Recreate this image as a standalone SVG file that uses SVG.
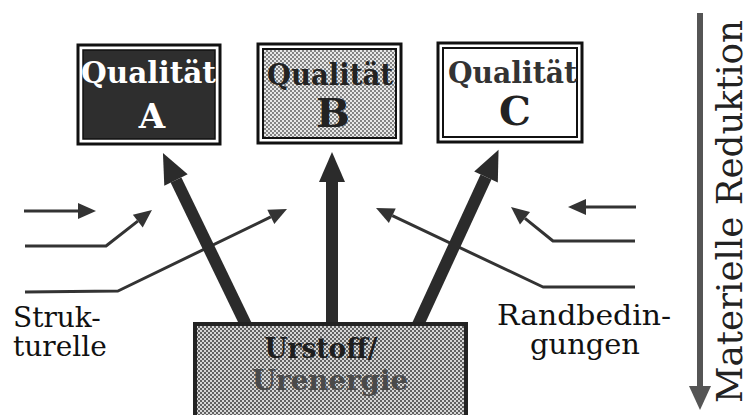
<svg xmlns="http://www.w3.org/2000/svg" width="750" height="415" viewBox="0 0 750 415">
<style>
.thin{fill:none;stroke:#333;stroke-width:3;stroke-linejoin:round;marker-end:url(#ah)}
.thick{stroke:#2b2b2b;stroke-width:12;marker-end:url(#bh)}
.q{font-family:"DejaVu Serif","Liberation Serif",serif;font-weight:bold;font-size:30px}
.big{font-family:"DejaVu Serif","Liberation Serif",serif;font-weight:bold;text-anchor:middle}
.lbl{font-family:"DejaVu Serif","Liberation Serif",serif;font-size:28px;fill:#111}
</style>
<defs>
<marker id="ah" markerUnits="userSpaceOnUse" markerWidth="18" markerHeight="16" refX="0" refY="8" orient="auto" overflow="visible">
<path d="M0,0 L18,8 L0,16 z" fill="#333"/>
</marker>
<marker id="bh" markerUnits="userSpaceOnUse" markerWidth="30" markerHeight="26" refX="0" refY="13" orient="auto" overflow="visible">
<path d="M0,0 L30,13 L0,26 z" fill="#2b2b2b"/>
</marker>
<marker id="vh" markerUnits="userSpaceOnUse" markerWidth="24" markerHeight="22" refX="0" refY="11" orient="auto" overflow="visible">
<path d="M0,0 L24,11 L0,22 z" fill="#555"/>
</marker>
<pattern id="dotsB" width="4" height="4" patternUnits="userSpaceOnUse">
<rect width="4" height="4" fill="#e8e8e8"/>
<circle cx="1" cy="1" r="0.9" fill="#555"/>
<circle cx="3" cy="3" r="0.9" fill="#555"/>
</pattern>
<pattern id="dotsU" width="4" height="4" patternUnits="userSpaceOnUse">
<rect width="4" height="4" fill="#d6d6d6"/>
<circle cx="1" cy="1" r="1" fill="#3a3a3a"/>
<circle cx="3" cy="3" r="1" fill="#3a3a3a"/>
</pattern>
</defs>
<rect width="750" height="415" fill="#fff"/>

<g id="connectors">
<polyline class="thin" points="24,211 78,211"/>
<polyline class="thin" points="25,246 106,246 137.8,221.1"/>
<polyline class="thin" points="25,292 118,291 270.8,216.9"/>
<polyline class="thin" points="636,207 586,207"/>
<polyline class="thin" points="635,241 553,241 525,218.3"/>
<polyline class="thin" points="635,287 543,287 392.3,215.7"/>
<line class="thick" x1="248.5" y1="330" x2="176" y2="180"/>
<line class="thick" stroke-width="9" x1="332" y1="330" x2="332" y2="182"/>
<line class="thick" x1="415.5" y1="330" x2="486" y2="177"/>
<line x1="700" y1="13" x2="700" y2="386" stroke="#555" stroke-width="6" marker-end="url(#vh)"/>
</g>

<g id="qualA">
<rect x="78" y="45" width="142" height="99" fill="#fff" stroke="#111" stroke-width="3"/>
<rect x="83" y="50" width="132" height="89" fill="#2e2e2e" stroke="#111" stroke-width="1.5"/>
<text class="q" x="81" y="83" fill="#fff" textLength="135" lengthAdjust="spacingAndGlyphs">Qualität</text>
<text class="big" x="152" y="128" font-size="34" fill="#fff">A</text>
</g>

<g id="qualB">
<rect x="258" y="44" width="143" height="99" fill="#fff" stroke="#111" stroke-width="3"/>
<rect x="263" y="49" width="133" height="89" fill="url(#dotsB)" stroke="#111" stroke-width="2"/>
<text class="q" x="267" y="85" fill="#222" textLength="126" lengthAdjust="spacingAndGlyphs">Qualität</text>
<text class="big" x="333" y="127" font-size="40" fill="#222">B</text>
</g>

<g id="qualC">
<rect x="438" y="43" width="144" height="99" fill="#fff" stroke="#111" stroke-width="3"/>
<rect x="443" y="48" width="134" height="89" fill="#fff" stroke="#111" stroke-width="2"/>
<text class="q" x="448" y="83" fill="#333" textLength="129" lengthAdjust="spacingAndGlyphs">Qualität</text>
<text class="big" x="515" y="125" font-size="40" fill="#222">C</text>
</g>

<g id="urstoff">
<rect x="195" y="324" width="271" height="100" fill="url(#dotsU)" stroke="#222" stroke-width="4"/>
<text class="big" x="321" y="358" font-size="28" fill="#1e1e1e" textLength="113" lengthAdjust="spacingAndGlyphs">Urstoff/</text>
<text class="big" x="330" y="390" font-size="28" fill="#4a4a4a" textLength="156" lengthAdjust="spacingAndGlyphs">Urenergie</text>
</g>

<g id="strukturelle">
<text class="lbl" x="13" y="327">Struk-</text>
<text class="lbl" x="13" y="356">turelle</text>
</g>

<g id="randbedingungen">
<text class="lbl" x="497" y="325" textLength="174" lengthAdjust="spacingAndGlyphs">Randbedin-</text>
<text class="lbl" x="530" y="354" textLength="110" lengthAdjust="spacingAndGlyphs">gungen</text>
</g>

<g id="reduktion">
<text x="0" y="0" transform="translate(742,403) rotate(-90)" font-family="'DejaVu Serif','Liberation Serif',serif" font-size="35" fill="#222" textLength="383" lengthAdjust="spacingAndGlyphs">Materielle Reduktion</text>
</g>
</svg>
